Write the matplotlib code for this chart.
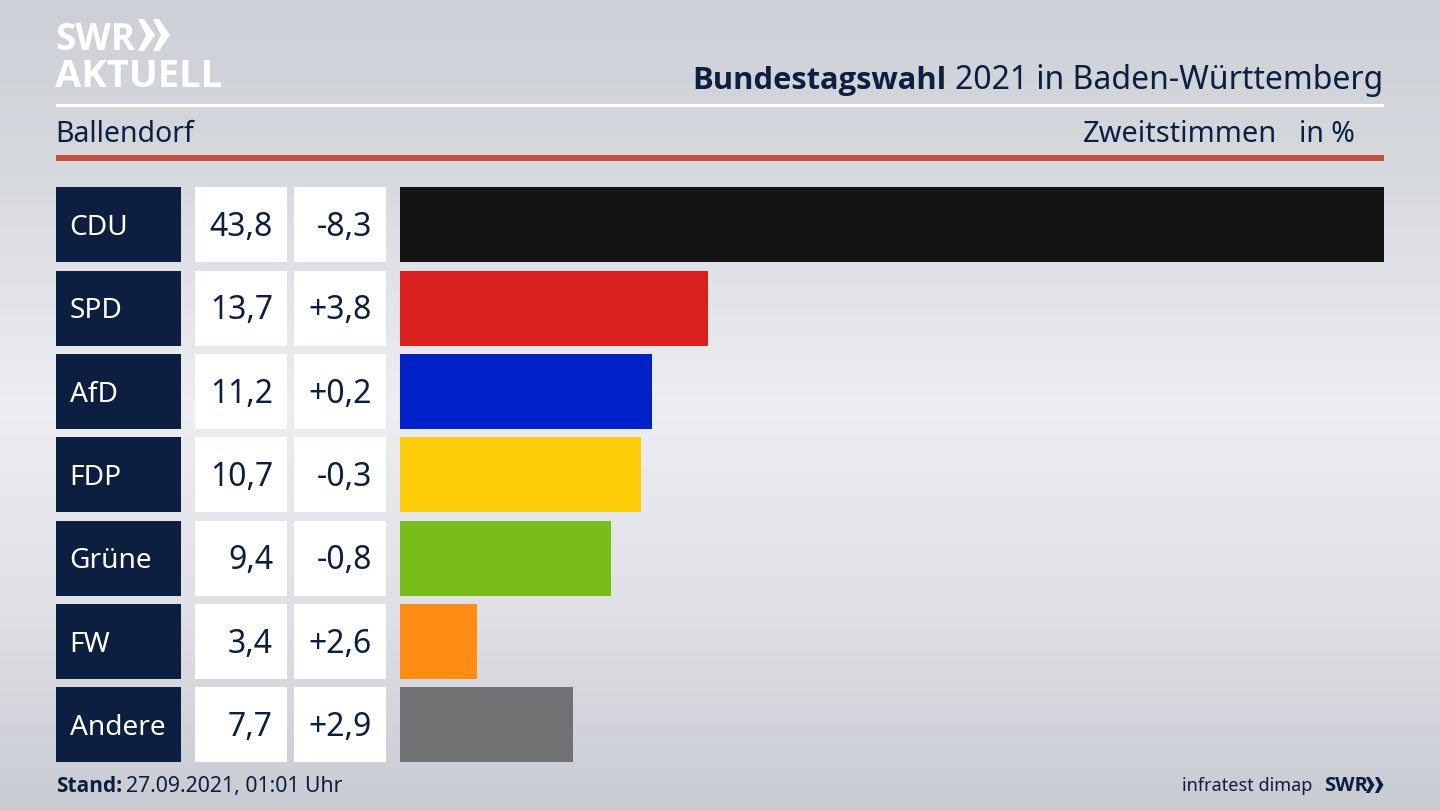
import matplotlib
matplotlib.use("Agg")
import matplotlib.pyplot as plt
import numpy as np
from matplotlib.colors import LinearSegmentedColormap
from matplotlib.patches import Polygon

parties = ["CDU", "SPD", "AfD", "FDP", "Grüne", "FW", "Andere"]
results = [43.8, 13.7, 11.2, 10.7, 9.4, 3.4, 7.7]
changes = ["-8,3", "+3,8", "+0,2", "-0,3", "-0,8", "+2,6", "+2,9"]
result_labels = ["43,8", "13,7", "11,2", "10,7", "9,4", "3,4", "7,7"]
bar_colors = ["#141414", "#d9201e", "#0021c8", "#ffcd08", "#79bd1a", "#ff8c14", "#717274"]

NAVY = "#0c1f41"
BOLD = "Open Sans"
W, H = 1440, 810

plt.rcParams["font.family"] = ["Noto Sans", "DejaVu Sans"]


def px_axes(fig, left, top, width, height):
    return fig.add_axes([left / W, 1 - (top + height) / H, width / W, height / H])


fig = plt.figure(figsize=(W / 100, H / 100), dpi=100)

# Hintergrund und alles in Pixelkoordinaten
bg = fig.add_axes([0, 0, 1, 1])
cmap = LinearSegmentedColormap.from_list(
    "bg", [(0, "#cdd0d6"), (0.2, "#d5d8dd"), (0.5, "#eceef2"), (0.75, "#dfe1e6"), (1, "#c8cbd2")]
)
bg.imshow(np.linspace(0, 1, 256).reshape(-1, 1), cmap=cmap, aspect="auto", extent=[0, W, H, 0])
bg.set_xlim(0, W)
bg.set_ylim(H, 0)
bg.axis("off")

# Kopf
bg.fill_between([56, 1384], 104, 107, color="white", lw=0)
bg.fill_between([56, 1384], 155, 160.5, color="#c8503c", lw=0)
bg.text(55, 50, "SWR", color="white", fontsize=26.5, fontweight="bold", va="baseline", ha="left", family=BOLD)
bg.text(55, 87, "AKTUELL", color="white", fontsize=27.5, fontweight="bold", va="baseline", ha="left", family=BOLD)
for x0 in (138, 153):
    bg.add_patch(Polygon([(x0, 19), (x0 + 6, 19), (x0 + 17, 35), (x0 + 6, 51), (x0, 51), (x0 + 8, 35)],
                         closed=True, color="white", lw=0))

title = bg.text(1383, 89, "2021 in Baden-Württemberg", color=NAVY, fontsize=23, va="baseline", ha="right")
fig.canvas.draw()
title_left = title.get_window_extent().x0
bg.text(title_left - 8, 89, "Bundestagswahl", color=NAVY, fontsize=22.2, fontweight="bold", va="baseline",
        ha="right", family=BOLD)

bg.text(55.5, 141.5, "Ballendorf", color=NAVY, fontsize=20.5, va="baseline", ha="left")
bg.text(1277.5, 141.5, "Zweitstimmen", color=NAVY, fontsize=20.9, va="baseline", ha="right")
bg.text(1355, 141.5, "in %", color=NAVY, fontsize=20.5, va="baseline", ha="right")

# Tabelle links
table = px_axes(fig, 56, 187.2, 330, 575)
table.set_xlim(56, 386)
table.set_ylim(len(parties) - 1 + 0.45, -0.45)
table.axis("off")
rows = np.arange(len(parties))
table.barh(rows, 125, left=56, height=0.9, color=NAVY)
table.barh(rows, 92, left=195, height=0.9, color="white")
table.barh(rows, 92, left=294, height=0.9, color="white")
for i, row in enumerate(rows):
    table.text(69.5, row + 0.125, parties[i], color="white", fontsize=20.2, va="baseline", ha="left")
    table.text(273, row + 0.135, result_labels[i], color=NAVY, fontsize=23, va="baseline", ha="right")
    table.text(372, row + 0.135, changes[i], color=NAVY, fontsize=23, va="baseline", ha="right")

# Balken
ax = px_axes(fig, 400.4, 187.2, 983.6, 575)
ax.barh(rows, results, height=0.9, color=bar_colors)
ax.set_xlim(0, max(results))
ax.set_ylim(len(parties) - 1 + 0.45, -0.45)
ax.axis("off")

# Fuss
stand = bg.text(56, 792, "Stand:", color=NAVY, fontsize=15, fontweight="bold", va="baseline", ha="left", family=BOLD)
fig.canvas.draw()
stand_right = stand.get_window_extent().x1
bg.text(stand_right + 4, 792, "27.09.2021, 01:01 Uhr", color=NAVY, fontsize=15.3, va="baseline", ha="left")
bg.text(1312, 791, "infratest dimap", color=NAVY, fontsize=13, va="baseline", ha="right")
bg.text(1324, 791, "SWR", color=NAVY, fontsize=14.5, fontweight="bold", va="baseline", ha="left", family=BOLD)
for x0 in (1366, 1375):
    bg.add_patch(Polygon([(x0, 777), (x0 + 3.5, 777), (x0 + 8.5, 785), (x0 + 3.5, 793), (x0, 793), (x0 + 4, 785)],
                         closed=True, color=NAVY, lw=0))

fig.savefig("out.png", dpi=100)
